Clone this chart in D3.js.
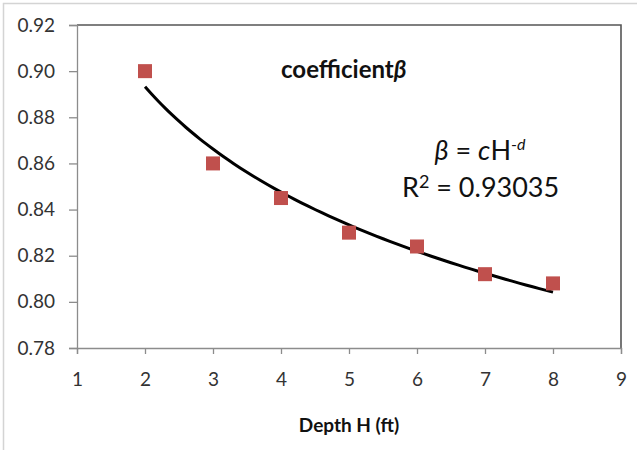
<!DOCTYPE html>
<html>
<head>
<meta charset="utf-8">
<script src="https://cdn.jsdelivr.net/npm/d3@7"></script>
<style>
  body { margin: 0; background: #fff; }
  svg { display: block; font-family: Lato, "Open Sans", sans-serif; }
</style>
</head>
<body>
<div id="chart"></div>
<script>
// depth H (ft) and measured coefficient beta
const depths = [2, 3, 4, 5, 6, 7, 8];
const betas = [0.900, 0.860, 0.845, 0.830, 0.824, 0.812, 0.808];
const xTicks = [1, 2, 3, 4, 5, 6, 7, 8, 9];
const yTicks = [0.78, 0.80, 0.82, 0.84, 0.86, 0.88, 0.90, 0.92];
const rSquaredLabel = "0.93035";

const width = 637;
const height = 450;
const margin = { top: 25, right: 16, bottom: 102, left: 77 };

const svg = d3.select("#chart")
  .append("svg")
  .attr("width", width)
  .attr("height", height);

// light outer frame (top and left only show in the picture)
svg.append("path")
  .attr("d", `M3.5,${height} V3.5 H${width}`)
  .attr("fill", "none")
  .attr("stroke", "#d4d4d4")
  .attr("stroke-width", 1.5);

const x = d3.scaleLinear()
  .domain([1, 9])
  .range([margin.left, width - margin.right]);

const y = d3.scaleLinear()
  .domain([0.78, 0.92])
  .range([height - margin.bottom, margin.top]);

// plot area border, top and right are darker
svg.append("path")
  .attr("d", `M${x(1)},${y(0.92)} H${x(9)} V${y(0.78)}`)
  .attr("fill", "none")
  .attr("stroke", "#555")
  .attr("stroke-width", 1.6);

const yAxis = svg.append("g")
  .attr("transform", `translate(${x(1)},0)`)
  .call(d3.axisLeft(y).tickValues(yTicks).tickFormat(d3.format(".2f")).tickSize(8).tickPadding(14));

const xAxis = svg.append("g")
  .attr("transform", `translate(0,${y(0.78)})`)
  .call(d3.axisBottom(x).tickValues(xTicks).tickFormat(d3.format("d")).tickSize(6).tickPadding(19));

[yAxis, xAxis].forEach(g => {
  g.select(".domain").attr("stroke", "#8c8c8c").attr("stroke-width", 1.3);
  g.selectAll(".tick line").attr("stroke", "#8c8c8c").attr("stroke-width", 1.3);
  g.selectAll(".tick text")
    .attr("fill", "#333")
    .style("font-size", "19px")
    .style("font-family", "Lato, sans-serif");
});

// power trend line fitted in log-log space: beta = c * H^-d
const lx = depths.map(Math.log);
const ly = betas.map(Math.log);
const mx = d3.mean(lx), my = d3.mean(ly);
const slope = d3.sum(lx, (v, i) => (v - mx) * (ly[i] - my)) / d3.sum(lx, v => (v - mx) ** 2);
const c = Math.exp(my - slope * mx);
const fitX = d3.range(0, 61).map(i => 2 + i * 0.1);

svg.append("path")
  .datum(fitX)
  .attr("fill", "none")
  .attr("stroke", "#000")
  .attr("stroke-width", 3)
  .attr("d", d3.line().x(d => x(d)).y(d => y(c * Math.pow(d, slope))).curve(d3.curveMonotoneX));

const s = 14;
svg.append("g")
  .selectAll("rect")
  .data(depths)
  .join("rect")
  .attr("x", d => x(d) - s / 2)
  .attr("y", (d, i) => y(betas[i]) - s / 2)
  .attr("width", s)
  .attr("height", s)
  .attr("fill", "#c0504d");

// title inside the plot
const title = svg.append("text")
  .attr("x", 281)
  .attr("y", 78)
  .attr("fill", "#111")
  .style("font-size", "24px")
  .style("font-weight", "bold");
title.append("tspan").text("coefficient");
title.append("tspan").style("font-style", "italic").text("β");

// equation label
const eq = svg.append("text")
  .attr("x", 480)
  .attr("y", 160)
  .attr("text-anchor", "middle")
  .attr("fill", "#111")
  .style("font-size", "27px");
eq.append("tspan").style("font-style", "italic").text("β");
eq.append("tspan").text(" = ");
eq.append("tspan").style("font-style", "italic").text("c");
eq.append("tspan").text("H");
eq.append("tspan").attr("dy", -10).style("font-size", "16px").text("-");
eq.append("tspan").style("font-size", "16px").style("font-style", "italic").text("d");

const r2 = svg.append("text")
  .attr("x", 402)
  .attr("y", 197)
  .attr("fill", "#111")
  .style("font-size", "27px");
r2.append("tspan").text("R");
r2.append("tspan").attr("dy", -9).style("font-size", "18px").text("2");
r2.append("tspan").attr("dy", 9).text(" = " + rSquaredLabel);

svg.append("text")
  .attr("x", (x(1) + x(9)) / 2)
  .attr("y", 432)
  .attr("text-anchor", "middle")
  .attr("fill", "#111")
  .style("font-size", "19px")
  .style("font-weight", "bold")
  .text("Depth H (ft)");
</script>
</body>
</html>
